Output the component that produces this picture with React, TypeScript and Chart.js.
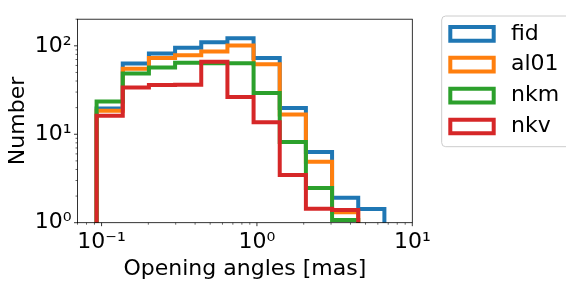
import React, { useEffect, useRef } from 'react';
import { Chart, registerables } from 'chart.js';

Chart.register(...registerables);

// Histogram bin edges (opening angle, mas), log-spaced
const binEdges = [0.0929, 0.1369, 0.2017, 0.2973, 0.4381, 0.6457, 0.9515, 1.402, 2.066, 3.045, 4.487, 6.613];

// Counts per bin for each model
const fidCounts = [19.5, 63, 82, 95, 110, 122, 73, 19.8, 6.3, 1.92, 1.43];
const al01Counts = [18.4, 55, 72.7, 78.3, 86.3, 101, 61.8, 16.7, 4.9, 1.31];
const nkmCounts = [23.4, 48.8, 57, 64.4, 63.4, 63.4, 29.2, 8.2, 2.47, 1.07];
const nkvCounts = [16.2, 33.8, 36.1, 36.4, 66, 26.4, 13.7, 3.46, 1.44, 1.39];

const seriesNames = ['fid', 'al01', 'nkm', 'nkv'];
const seriesColors = ['#1f77b4', '#ff7f0e', '#2ca02c', '#d62728'];
const seriesCounts = [fidCounts, al01Counts, nkmCounts, nkvCounts];

const xMajorTicks = [0.1, 1, 10];
const xTickLabels = ['10⁻¹', '10⁰', '10¹'];
const xMinorTicks = [0.07, 0.08, 0.09, 0.2, 0.3, 0.4, 0.5, 0.6, 0.7, 0.8, 0.9, 2, 3, 4, 5, 6, 7, 8, 9];
const yMajorTicks = [1, 10, 100];
const yTickLabels = ['10⁰', '10¹', '10²'];
const yMinorTicks = [2, 3, 4, 5, 6, 7, 8, 9, 20, 30, 40, 50, 60, 70, 80, 90, 200];

const X_MIN = 0.07;
const X_MAX = 10;
const Y_MIN = 1;
const Y_MAX = 200;
const FLOOR = 0.5; // below axis, clipped

const FONT = '"DejaVu Sans", sans-serif';

function stepPoints(values: number[]) {
  const pts: { x: number; y: number }[] = [{ x: binEdges[0], y: FLOOR }];
  values.forEach((v, i) => pts.push({ x: binEdges[i], y: v }));
  pts.push({ x: binEdges[values.length], y: FLOOR });
  return pts;
}

function buildTicks(majors: number[], minors: number[]) {
  const all = majors.map((v) => ({ value: v, major: true })).concat(minors.map((v) => ({ value: v, major: false })));
  all.sort((a, b) => a.value - b.value);
  return all;
}

const framePlugin = {
  id: 'mplFrame',
  afterDraw(chart: any) {
    const { ctx, chartArea } = chart;
    const { left, right, top, bottom } = chartArea;
    ctx.save();
    ctx.strokeStyle = '#000';
    const xs = chart.scales.x;
    const ys = chart.scales.y;
    ctx.lineCap = 'butt';
    xs.ticks.forEach((t: any) => {
      const px = xs.getPixelForValue(t.value);
      if (px < left - 0.5 || px > right + 0.5) return;
      ctx.lineWidth = t.major ? 0.8 : 0.6;
      const len = t.major ? 3.5 : 2;
      ctx.beginPath();
      ctx.moveTo(px, bottom);
      ctx.lineTo(px, bottom + len);
      ctx.stroke();
    });
    ys.ticks.forEach((t: any) => {
      const py = ys.getPixelForValue(t.value);
      if (py < top - 0.5 || py > bottom + 0.5) return;
      ctx.lineWidth = t.major ? 0.8 : 0.6;
      const len = t.major ? 3.5 : 2;
      ctx.beginPath();
      ctx.moveTo(left, py);
      ctx.lineTo(left - len, py);
      ctx.stroke();
    });
    ctx.lineWidth = 0.8;
    ctx.strokeRect(left, top, right - left, bottom - top);
    ctx.restore();
  },
};

const legendPlugin = {
  id: 'boxLegend',
  afterDraw(chart: any) {
    const ctx = chart.ctx;
    ctx.save();
    ctx.beginPath();
    ctx.roundRect(441.7, 16, 140, 130.7, 4);
    ctx.fillStyle = 'rgba(255,255,255,0.8)';
    ctx.fill();
    ctx.strokeStyle = '#cccccc';
    ctx.lineWidth = 1;
    ctx.stroke();
    seriesNames.forEach((name, i) => {
      const cy = 33.8 + i * 30.9;
      ctx.beginPath();
      ctx.rect(450.3, cy - 6.85, 43.4, 13.7);
      ctx.fillStyle = '#ffffff';
      ctx.fill();
      ctx.strokeStyle = seriesColors[i];
      ctx.lineWidth = 4;
      ctx.lineJoin = 'miter';
      ctx.stroke();
      ctx.fillStyle = '#000';
      ctx.font = '22px ' + FONT;
      ctx.textBaseline = 'middle';
      ctx.textAlign = 'left';
      ctx.fillText(name, 511, cy);
    });
    ctx.restore();
  },
};

export default function App() {
  const canvasRef = useRef<HTMLCanvasElement | null>(null);

  useEffect(() => {
    if (!canvasRef.current) return;
    const chart = new Chart(canvasRef.current, {
      type: 'line',
      data: {
        datasets: seriesNames.map((name, i) => ({
          label: name,
          data: stepPoints(seriesCounts[i]),
          borderColor: seriesColors[i],
          backgroundColor: seriesColors[i],
          borderWidth: 4,
          pointRadius: 0,
          stepped: true,
          fill: false,
          clip: 0,
          borderJoinStyle: 'miter',
          borderCapStyle: 'butt',
          order: seriesNames.length - i,
        })) as any,
      },
      options: {
        responsive: false,
        animation: false,
        events: [],
        layout: { padding: { top: 5.3, right: 153.7, left: 0, bottom: 0 } },
        plugins: { legend: { display: false }, tooltip: { enabled: false } },
        scales: {
          x: {
            type: 'logarithmic',
            min: X_MIN,
            max: X_MAX,
            afterBuildTicks: (scale: any) => {
              scale.ticks = buildTicks(xMajorTicks, xMinorTicks);
            },
            afterFit: (scale: any) => {
              scale.height = 63.3;
            },
            grid: { display: false, drawTicks: false },
            border: { display: false },
            ticks: {
              autoSkip: false,
              maxRotation: 0,
              minRotation: 0,
              padding: 6,
              color: '#000',
              font: { family: FONT, size: 22 },
              callback: (value: any) => {
                const idx = xMajorTicks.indexOf(Number(value));
                return idx >= 0 ? xTickLabels[idx] : '';
              },
            },
            title: {
              display: true,
              text: 'Opening angles [mas]',
              color: '#000',
              font: { family: FONT, size: 22, lineHeight: 1 },
              padding: { top: 0, bottom: 6 },
            },
          },
          y: {
            type: 'logarithmic',
            min: Y_MIN,
            max: Y_MAX,
            afterBuildTicks: (scale: any) => {
              scale.ticks = buildTicks(yMajorTicks, yMinorTicks);
            },
            afterFit: (scale: any) => {
              scale.width = 77.5;
            },
            grid: { display: false, drawTicks: false },
            border: { display: false },
            ticks: {
              autoSkip: false,
              padding: 6,
              color: '#000',
              font: { family: FONT, size: 22 },
              callback: (value: any) => {
                const idx = yMajorTicks.indexOf(Number(value));
                return idx >= 0 ? yTickLabels[idx] : '';
              },
            },
            title: {
              display: true,
              text: 'Number',
              color: '#000',
              font: { family: FONT, size: 22, lineHeight: 1 },
              padding: { top: 7, bottom: 0 },
            },
          },
        },
      },
      plugins: [framePlugin, legendPlugin],
    });
    return () => chart.destroy();
  }, []);

  return (
    <div style={{ position: 'absolute', left: 0, top: 0, width: 566, height: 286, background: '#fff' }}>
      <canvas ref={canvasRef} width={566} height={286} style={{ display: 'block' }} />
    </div>
  );
}
